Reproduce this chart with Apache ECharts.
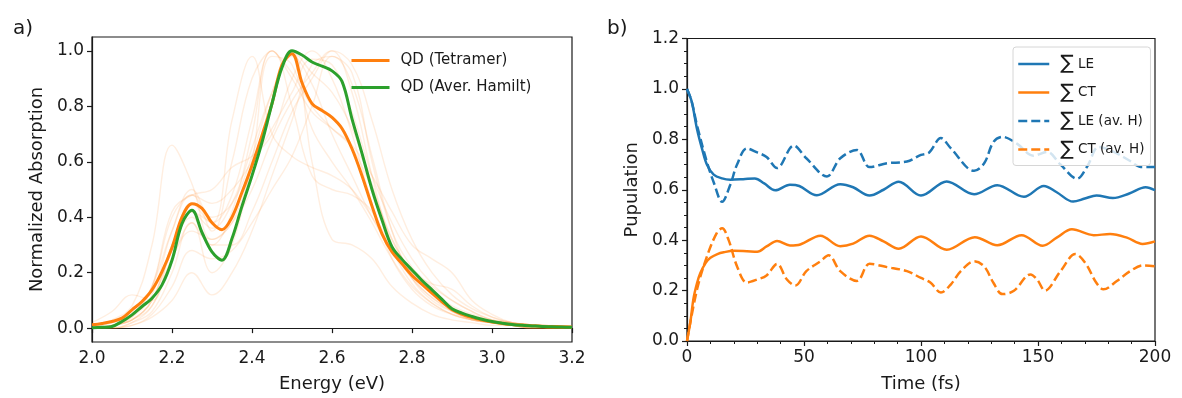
<!DOCTYPE html>
<html>
<head>
<meta charset="utf-8">
<script src="https://cdn.jsdelivr.net/npm/echarts@6/dist/echarts.min.js"></script>
<style>
  html, body { margin: 0; padding: 0; background: #ffffff; }
  #chart { width: 1182px; height: 398px; }
</style>
</head>
<body>
<div id="chart"></div>
<script>
// ---------------- Panel a data ----------------
const energyMain = [2.000, 2.025, 2.050, 2.075, 2.100, 2.125, 2.150, 2.175, 2.200, 2.225,
  2.250, 2.275, 2.300, 2.325, 2.350, 2.375, 2.400, 2.425, 2.450, 2.475,
  2.500, 2.525, 2.550, 2.575, 2.600, 2.625, 2.650, 2.675, 2.700, 2.725,
  2.750, 2.775, 2.800, 2.825, 2.850, 2.875, 2.900, 2.925, 2.950, 2.975,
  3.000, 3.025, 3.050, 3.075, 3.100, 3.125, 3.150, 3.175, 3.200];
const tetramer = [0.012, 0.017, 0.024, 0.036, 0.066, 0.096, 0.138, 0.204, 0.290, 0.400,
  0.449, 0.432, 0.380, 0.355, 0.400, 0.490, 0.587, 0.695, 0.810, 0.950,
  0.990, 0.885, 0.810, 0.785, 0.760, 0.720, 0.647, 0.550, 0.440, 0.340,
  0.275, 0.232, 0.190, 0.158, 0.126, 0.095, 0.066, 0.050, 0.038, 0.029,
  0.022, 0.017, 0.013, 0.011, 0.009, 0.007, 0.006, 0.005, 0.004];
const averHamilt = [0.001, 0.003, 0.006, 0.024, 0.048, 0.078, 0.108, 0.156, 0.245, 0.377,
  0.425, 0.345, 0.275, 0.245, 0.323, 0.440, 0.550, 0.670, 0.810, 0.940,
  1.000, 0.985, 0.960, 0.945, 0.928, 0.890, 0.755, 0.630, 0.500, 0.390,
  0.293, 0.248, 0.210, 0.172, 0.138, 0.104, 0.070, 0.054, 0.042, 0.032,
  0.024, 0.018, 0.013, 0.010, 0.008, 0.006, 0.005, 0.004, 0.003];

// faint individual spectra, sampled every 0.05 eV from 2.0 to 3.2
const energyFaint = [2.00, 2.05, 2.10, 2.15, 2.20, 2.25, 2.30, 2.35, 2.40, 2.45, 2.50, 2.55, 2.60,
  2.65, 2.70, 2.75, 2.80, 2.85, 2.90, 2.95, 3.00, 3.05, 3.10, 3.15, 3.20];
const faint01 = [0.00, 0.01, 0.03, 0.10, 0.28, 0.42, 0.38, 0.75, 0.98, 0.70, 0.62, 0.58, 0.55, 0.50, 0.40, 0.28, 0.18, 0.11, 0.07, 0.04, 0.02, 0.01, 0.01, 0.00, 0.00];
const faint02 = [0.01, 0.03, 0.08, 0.30, 0.66, 0.52, 0.32, 0.38, 0.58, 0.82, 1.00, 0.92, 0.85, 0.72, 0.52, 0.32, 0.20, 0.13, 0.08, 0.05, 0.03, 0.02, 0.01, 0.01, 0.00];
const faint03 = [0.02, 0.06, 0.12, 0.10, 0.30, 0.40, 0.30, 0.42, 0.70, 1.00, 0.92, 0.80, 0.72, 0.65, 0.50, 0.32, 0.20, 0.12, 0.07, 0.04, 0.02, 0.01, 0.01, 0.00, 0.00];
const faint04 = [0.00, 0.00, 0.02, 0.06, 0.20, 0.38, 0.30, 0.30, 0.42, 0.60, 0.78, 0.90, 1.00, 0.85, 0.55, 0.30, 0.18, 0.11, 0.06, 0.03, 0.02, 0.01, 0.00, 0.00, 0.00];
const faint05 = [0.00, 0.00, 0.01, 0.04, 0.10, 0.20, 0.12, 0.20, 0.35, 0.55, 0.75, 0.95, 0.98, 0.88, 0.62, 0.35, 0.18, 0.10, 0.06, 0.03, 0.02, 0.01, 0.00, 0.00, 0.00];
const faint06 = [0.00, 0.01, 0.03, 0.10, 0.30, 0.45, 0.38, 0.48, 0.75, 1.00, 0.90, 0.78, 0.72, 0.66, 0.55, 0.42, 0.30, 0.25, 0.20, 0.10, 0.05, 0.02, 0.01, 0.00, 0.00];
const faint07 = [0.00, 0.00, 0.02, 0.08, 0.25, 0.35, 0.32, 0.38, 0.50, 0.68, 0.82, 0.92, 1.00, 0.95, 0.75, 0.50, 0.32, 0.20, 0.12, 0.07, 0.04, 0.02, 0.01, 0.00, 0.00];
const faint08 = [0.00, 0.01, 0.04, 0.12, 0.35, 0.50, 0.40, 0.45, 0.62, 0.85, 1.00, 0.60, 0.32, 0.30, 0.25, 0.15, 0.09, 0.05, 0.03, 0.02, 0.01, 0.01, 0.00, 0.00, 0.00];
const faint09 = [0.00, 0.01, 0.03, 0.08, 0.25, 0.38, 0.20, 0.30, 0.60, 0.98, 0.95, 0.72, 0.60, 0.50, 0.38, 0.25, 0.15, 0.09, 0.05, 0.03, 0.02, 0.01, 0.00, 0.00, 0.00];
const faint10 = [0.01, 0.02, 0.05, 0.15, 0.35, 0.48, 0.45, 0.50, 0.60, 0.72, 0.85, 0.97, 0.95, 0.78, 0.55, 0.38, 0.25, 0.16, 0.10, 0.06, 0.03, 0.02, 0.01, 0.00, 0.00];
const faint11 = [0.00, 0.01, 0.04, 0.15, 0.42, 0.48, 0.50, 0.58, 0.62, 0.70, 0.90, 1.00, 0.90, 0.70, 0.45, 0.25, 0.14, 0.08, 0.05, 0.03, 0.02, 0.01, 0.00, 0.00, 0.00];
const faint12 = [0.00, 0.02, 0.05, 0.15, 0.40, 0.48, 0.35, 0.60, 0.90, 1.00, 0.80, 0.55, 0.50, 0.48, 0.42, 0.28, 0.16, 0.09, 0.05, 0.03, 0.02, 0.01, 0.00, 0.00, 0.00];
const faint13 = [0.00, 0.00, 0.01, 0.05, 0.15, 0.28, 0.25, 0.28, 0.38, 0.50, 0.62, 0.80, 0.98, 0.92, 0.60, 0.35, 0.22, 0.15, 0.10, 0.06, 0.03, 0.02, 0.01, 0.00, 0.00];
const faint14 = [0.00, 0.01, 0.03, 0.10, 0.30, 0.42, 0.36, 0.45, 0.65, 0.85, 0.98, 0.88, 0.70, 0.55, 0.40, 0.28, 0.20, 0.16, 0.14, 0.08, 0.04, 0.02, 0.01, 0.00, 0.00];
const faintList = [faint01, faint02, faint03, faint04, faint05, faint06, faint07,
  faint08, faint09, faint10, faint11, faint12, faint13, faint14];

const aTicksY = [0.0, 0.2, 0.4, 0.6, 0.8, 1.0];

// ---------------- Panel b data ----------------
const leTime = [0, 2, 4.3, 6.5, 8.5, 11.4, 15, 18.5, 24, 29, 33, 37.7, 44, 48, 55.5, 65.5, 71, 78, 84, 90.5,
  100, 111, 122.7, 132.6, 144, 152.5, 158, 165, 170, 175, 182, 189, 196, 200];
const leVal = [1.0, 0.95, 0.84, 0.76, 0.70, 0.66, 0.645, 0.64, 0.642, 0.645, 0.625, 0.598, 0.62, 0.615, 0.578, 0.622, 0.61, 0.577, 0.60, 0.632,
  0.577, 0.633, 0.582, 0.618, 0.572, 0.615, 0.59, 0.553, 0.565, 0.577, 0.567, 0.585, 0.61, 0.598];

const ctTime = [0, 1.5, 2.8, 4.3, 5.7, 8, 10, 13, 15.7, 20, 25.6, 30, 34, 38.5, 44, 48.4, 57, 65.5, 71, 78, 84, 90.5,
  100, 111, 123, 132.6, 143, 152, 158, 164.5, 173.8, 180.8, 188, 194.7, 200];
const ctVal = [0.0, 0.08, 0.17, 0.23, 0.27, 0.31, 0.33, 0.345, 0.352, 0.358, 0.356, 0.354, 0.375, 0.397, 0.379, 0.383, 0.418, 0.376, 0.386, 0.418, 0.395, 0.366,
  0.415, 0.362, 0.412, 0.38, 0.42, 0.378, 0.41, 0.443, 0.42, 0.424, 0.41, 0.385, 0.395];

const leAvTime = [0, 2, 4.3, 8.5, 11.4, 15, 18.5, 21.4, 25.6, 30, 34, 38.5, 45.6, 51, 59.8, 65.5, 72.6, 78, 85.5, 94,
  100, 103.5, 108.5, 112.8, 122.7, 127, 131, 134.8, 141, 148, 153.9, 159.6, 166.7, 171, 176, 181, 189.4, 194, 200];
const leAvVal = [1.0, 0.95, 0.855, 0.71, 0.63, 0.552, 0.62, 0.70, 0.764, 0.748, 0.73, 0.686, 0.775, 0.725, 0.653, 0.725, 0.758, 0.69, 0.705, 0.712,
  0.738, 0.748, 0.805, 0.764, 0.675, 0.705, 0.79, 0.81, 0.783, 0.735, 0.75, 0.70, 0.644, 0.692, 0.77, 0.757, 0.714, 0.69, 0.69];

const ctAvTime = [0, 4.3, 8.5, 12.8, 15, 17.8, 21.4, 25.6, 30, 34, 38.5, 42.7, 46.3, 51, 57, 60.5, 65.5, 72.6, 78, 85.5, 94,
  100, 104, 108.5, 112.8, 117, 122.7, 127, 131, 134.8, 139.7, 146.8, 149.6, 153, 159.6, 166, 170.2, 175, 178, 183.7, 189.4, 195, 200];
const ctAvVal = [0.0, 0.205, 0.335, 0.43, 0.447, 0.40, 0.296, 0.232, 0.244, 0.26, 0.306, 0.244, 0.22, 0.277, 0.316, 0.34, 0.277, 0.238, 0.306, 0.293, 0.277,
  0.25, 0.232, 0.192, 0.225, 0.277, 0.316, 0.296, 0.23, 0.186, 0.199, 0.264, 0.244, 0.20, 0.277, 0.345, 0.31, 0.23, 0.205, 0.238, 0.277, 0.30, 0.296];

// ---------------- Styling ----------------
const FONT = 'DejaVu Sans';
const TXT = '#1a1a1a';
const BLUE = '#1f77b4', ORANGE = '#ff7f0e', GREEN = '#2ca02c';

const pairs = (xs, ys) => xs.map((x, i) => [x, ys[i]]);

const series = [];
faintList.forEach((arr, k) => {
  series.push({
    name: 'faint' + k, type: 'line', xAxisIndex: 0, yAxisIndex: 0,
    data: pairs(energyFaint, arr), symbol: 'none', smooth: 0.4, silent: true,
    lineStyle: { color: ORANGE, width: 1.4, opacity: 0.13 }, z: 1
  });
});
series.push({
  name: 'QD (Tetramer)', type: 'line', xAxisIndex: 0, yAxisIndex: 0,
  data: pairs(energyMain, tetramer), symbol: 'none', smooth: 0.35,
  itemStyle: { color: ORANGE }, lineStyle: { color: ORANGE, width: 3 }, z: 3
});
series.push({
  name: 'QD (Aver. Hamilt)', type: 'line', xAxisIndex: 0, yAxisIndex: 0,
  data: pairs(energyMain, averHamilt), symbol: 'none', smooth: 0.35,
  itemStyle: { color: GREEN }, lineStyle: { color: GREEN, width: 3 }, z: 4
});
const bSeries = [
  ['LE', leTime, leVal, BLUE, 'solid'],
  ['CT', ctTime, ctVal, ORANGE, 'solid'],
  ['LE (av. H)', leAvTime, leAvVal, BLUE, [9, 4]],
  ['CT (av. H)', ctAvTime, ctAvVal, ORANGE, [9, 4]]
];
bSeries.forEach(([nm, t, v, c, dash]) => {
  series.push({
    name: nm, type: 'line', xAxisIndex: 1, yAxisIndex: 1,
    data: pairs(t, v), symbol: 'none', smooth: 0.35,
    itemStyle: { color: c }, lineStyle: { color: c, width: 2.5, type: dash }, z: 3
  });
});

const axisCommon = {
  axisLine: { show: true, lineStyle: { color: TXT, width: 1.2 } },
  axisTick: { show: true, inside: false, length: 5, lineStyle: { color: TXT, width: 1.2 } },
  splitLine: { show: false },
  axisLabel: { color: TXT, fontFamily: FONT, fontSize: 17, margin: 8 },
  nameTextStyle: { color: TXT, fontFamily: FONT, fontSize: 18 }
};

const hiddenSymbol = { color: 'rgba(0,0,0,0)', borderWidth: 0, opacity: 0 };

const option = {
  animation: false,
  backgroundColor: '#ffffff',
  textStyle: { fontFamily: FONT },
  title: [
    { text: 'a)', left: 8, top: 14, textStyle: { fontFamily: FONT, fontSize: 20, fontWeight: 'normal', color: TXT } },
    { text: 'b)', left: 602, top: 14, textStyle: { fontFamily: FONT, fontSize: 20, fontWeight: 'normal', color: TXT } }
  ],
  grid: [
    { left: 92, top: 37, width: 480, height: 305, show: true, borderColor: TXT, borderWidth: 1.2, backgroundColor: 'transparent' },
    { left: 687, top: 38.5, width: 468, height: 307.5, show: true, borderColor: TXT, borderWidth: 1.2, backgroundColor: 'transparent' }
  ],
  xAxis: [
    Object.assign({}, axisCommon, {
      type: 'value', gridIndex: 0, min: 2.0, max: 3.2, interval: 0.2,
      name: 'Energy (eV)', nameLocation: 'middle', nameGap: 33,
      axisLabel: Object.assign({}, axisCommon.axisLabel, { formatter: v => v.toFixed(1) })
    }),
    Object.assign({}, axisCommon, {
      type: 'value', gridIndex: 1, min: 0, max: 200, interval: 50,
      name: 'Time (fs)', nameLocation: 'middle', nameGap: 34,
      minorTick: { show: true, splitNumber: 5, length: 3, lineStyle: { color: TXT, width: 1 } },
      axisLabel: Object.assign({}, axisCommon.axisLabel, { formatter: v => String(Math.round(v)) })
    })
  ],
  yAxis: [
    Object.assign({}, axisCommon, {
      type: 'value', gridIndex: 0, min: -0.05, max: 1.05,
      name: 'Normalized Absorption', nameLocation: 'middle', nameGap: 46,
      axisTick: Object.assign({}, axisCommon.axisTick, { customValues: aTicksY }),
      axisLabel: Object.assign({}, axisCommon.axisLabel, { customValues: aTicksY, formatter: v => v.toFixed(1) })
    }),
    Object.assign({}, axisCommon, {
      type: 'value', gridIndex: 1, min: 0, max: 1.2, interval: 0.2,
      name: 'Pupulation', nameLocation: 'middle', nameGap: 46,
      minorTick: { show: true, splitNumber: 4, length: 3, lineStyle: { color: TXT, width: 1 } },
      axisLabel: Object.assign({}, axisCommon.axisLabel, { formatter: v => v.toFixed(1) })
    })
  ],
  legend: [
    {
      data: ['QD (Tetramer)', 'QD (Aver. Hamilt)'],
      orient: 'vertical', left: 350, top: 53, itemWidth: 38, itemHeight: 14, itemGap: 12,
      selectedMode: false, padding: 0,
      itemStyle: hiddenSymbol,
      lineStyle: { width: 3 },
      textStyle: { fontFamily: FONT, fontSize: 15, color: TXT, padding: [0, 0, 0, 6] }
    },
    {
      data: ['LE', 'CT', 'LE (av. H)', 'CT (av. H)'],
      orient: 'vertical', left: 1013, top: 47, itemWidth: 31, itemHeight: 14, itemGap: 8.5,
      selectedMode: false, padding: [7, 6, 6, 4],
      itemStyle: hiddenSymbol,
      lineStyle: { width: 2.5 },
      backgroundColor: 'rgba(255,255,255,0.8)', borderColor: '#d6d6d6', borderWidth: 1, borderRadius: 3,
      formatter: n => '{s|∑}{t| ' + n + '}',
      textStyle: {
        fontFamily: FONT, fontSize: 13.5, color: TXT, padding: [0, 0, 0, 6],
        rich: {
          s: { fontFamily: FONT, fontSize: 20, color: TXT, lineHeight: 20 },
          t: { fontFamily: FONT, fontSize: 13.5, color: TXT, lineHeight: 20 }
        }
      }
    }
  ],
  series: series
};

const chart = echarts.init(document.getElementById('chart'), null, { renderer: 'canvas' });
chart.setOption(option);
</script>
</body>
</html>
